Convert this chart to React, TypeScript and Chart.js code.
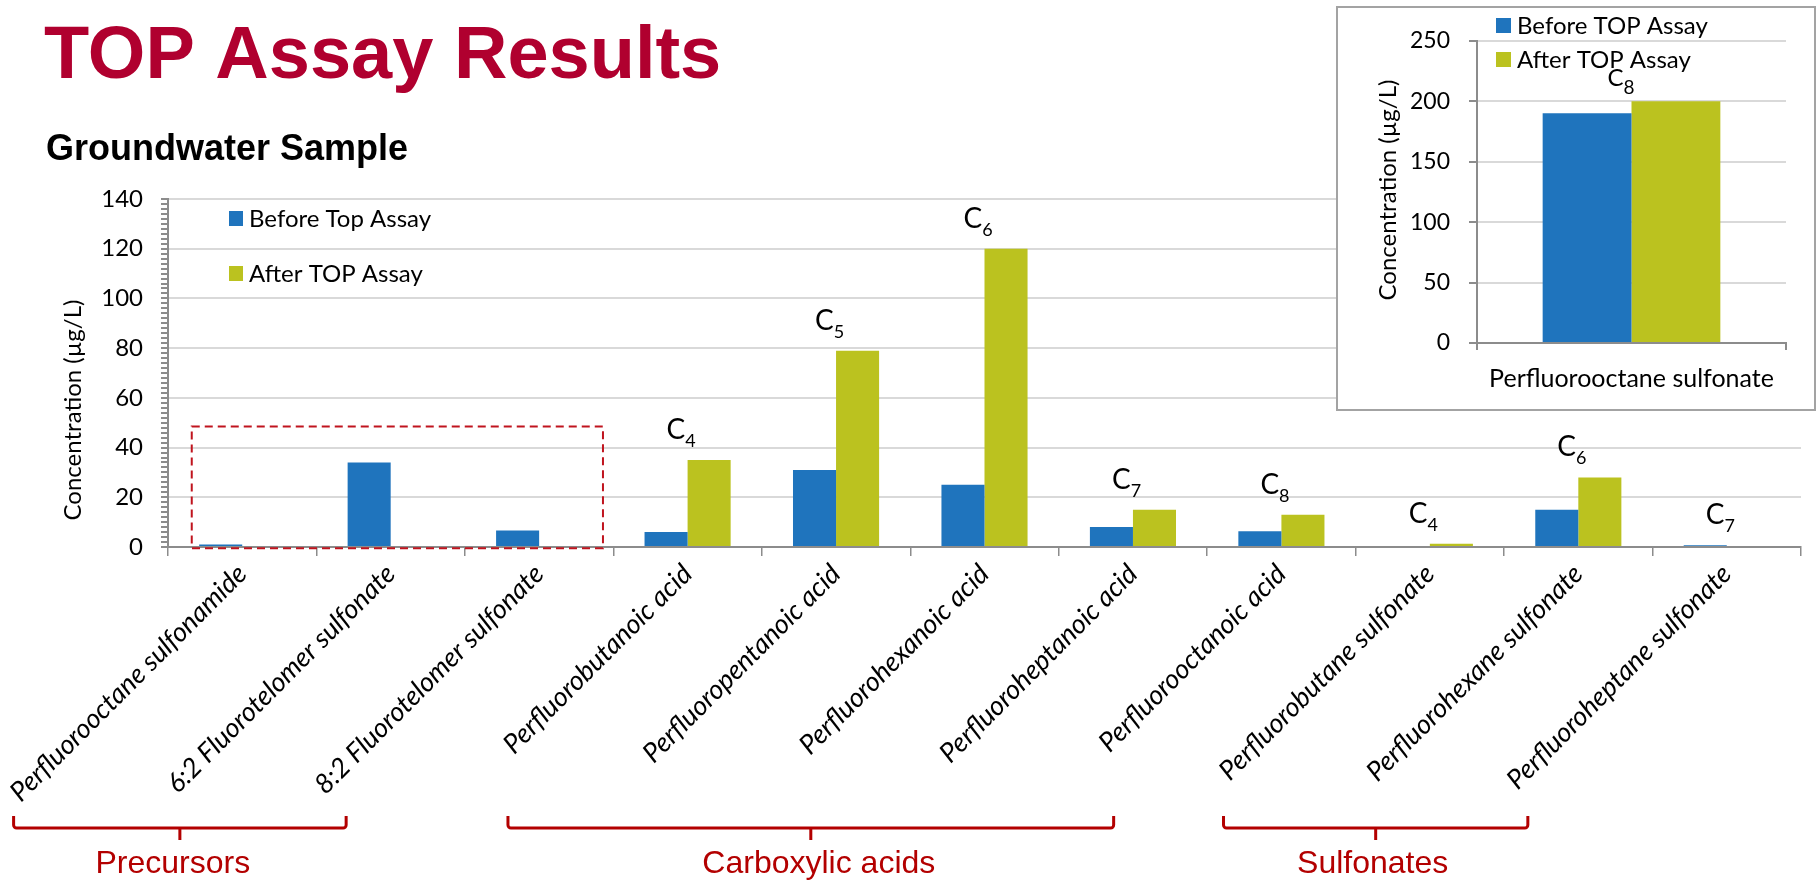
import React, { useEffect, useRef } from 'react';
import { Chart, registerables } from 'chart.js';

Chart.register(...registerables);

// ---- Groundwater sample: concentrations (µg/L) before and after the TOP assay ----
const CATEGORIES = [
  'Perfluorooctane sulfonamide',
  '6:2 Fluorotelomer sulfonate',
  '8:2 Fluorotelomer sulfonate',
  'Perfluorobutanoic acid',
  'Perfluoropentanoic acid',
  'Perfluorohexanoic acid',
  'Perfluoroheptanoic acid',
  'Perfluorooctanoic acid',
  'Perfluorobutane sulfonate',
  'Perfluorohexane sulfonate',
  'Perfluoroheptane sulfonate',
];
const BEFORE = [1, 34, 6.6, 6, 31, 25, 8, 6.3, 0, 15, 0.7];
const AFTER = [0, 0, 0, 35, 79, 120, 15, 13, 1.3, 28, 0.4];
// carbon chain length shown above each pair (empty = no label)
const CHAIN = ['', '', '', '4', '5', '6', '7', '8', '4', '6', '7'];
const Y_MAX = 140;
const Y_LABEL_STEP = 20;
const Y_MINOR_STEP = 2;

// ---- Inset: PFOS ----
const INSET_CATEGORIES = ['Perfluorooctane sulfonate'];
const INSET_BEFORE = [190];
const INSET_AFTER = [200];
const INSET_CHAIN = ['8'];
const INSET_Y_MAX = 250;
const INSET_Y_STEP = 50;

// ---- Compound groups under the axis ----
const GROUP_LABELS = ['Precursors', 'Carboxylic acids', 'Sulfonates'];
// bracket extents, in category-index units of the x scale
const BRACKET_SPANS: [number, number][] = [
  [-1.54, 0.7],
  [1.79, 5.87],
  [6.61, 8.66],
];
// horizontal nudge of each group name relative to its bracket centre (px)
const GROUP_LABEL_NUDGE = [-7, 8, -3];
// dashed outline around the precursors (x in category units, y in µg/L)
const PRECURSOR_BOX = { x0: -0.34, x1: 2.43, y0: -0.5, y1: 48.5 };

const LEGEND_MAIN = ['Before Top Assay', 'After TOP Assay'];
const LEGEND_INSET = ['Before TOP Assay', 'After TOP Assay'];
const Y_TITLE = 'Concentration (µg/L)';

const BLUE = '#1F74BD';
const GREEN = '#BBC21F';
const AXIS = '#8C8C8C';
const GRID = '#D9D9D9';
const DARK_RED = '#B0002F';
const BRACKET_RED = '#B30000';
const FONT = 'Lato';

function drawChainLabel(
  ctx: CanvasRenderingContext2D,
  x: number,
  baseline: number,
  sub: string,
  big: number,
  small: number,
  drop: number
) {
  ctx.save();
  ctx.fillStyle = '#000';
  ctx.textAlign = 'left';
  ctx.textBaseline = 'alphabetic';
  ctx.font = `${big}px ${FONT}`;
  ctx.fillText('C', x, baseline);
  const w = ctx.measureText('C').width;
  ctx.font = `${small}px ${FONT}`;
  ctx.fillText(sub, x + w, baseline + drop);
  ctx.restore();
}

const mainDecor = {
  id: 'mainDecor',
  afterDatasetsDraw(chart: any) {
    const { ctx, chartArea } = chart;
    const x = chart.scales.x;
    const y = chart.scales.y;
    ctx.save();

    // headings
    ctx.fillStyle = DARK_RED;
    ctx.textAlign = 'left';
    ctx.textBaseline = 'alphabetic';
    ctx.font = 'bold 74px "Liberation Sans"';
    ctx.fillText('TOP Assay Results', 44, 78);
    ctx.fillStyle = '#000';
    ctx.font = 'bold 36px "Liberation Sans"';
    ctx.fillText('Groundwater Sample', 46, 160);

    // y-axis title
    ctx.save();
    ctx.translate(73, 410);
    ctx.rotate(-Math.PI / 2);
    ctx.textAlign = 'center';
    ctx.textBaseline = 'middle';
    ctx.font = `24px ${FONT}`;
    ctx.fillStyle = '#000';
    ctx.fillText(Y_TITLE, 0, 0);
    ctx.restore();

    // legend inside the plot area
    const lx = chartArea.left + 61;
    const colors = [BLUE, GREEN];
    LEGEND_MAIN.forEach((t, i) => {
      const top = chartArea.top + 12 + i * 55;
      ctx.fillStyle = colors[i];
      ctx.fillRect(lx, top, 14, 15);
      ctx.fillStyle = '#000';
      ctx.font = `24px ${FONT}`;
      ctx.textBaseline = 'middle';
      ctx.fillText(t, lx + 20, top + 8);
    });

    // chain-length labels
    CHAIN.forEach((c, i) => {
      if (!c) return;
      const cx = x.getPixelForValue(i) - 21;
      const base = y.getPixelForValue(Math.max(AFTER[i], BEFORE[i])) - 21;
      drawChainLabel(ctx, cx, base, c, 28, 18, 8);
    });

    // dashed outline around the precursors
    ctx.save();
    ctx.strokeStyle = '#C0141E';
    ctx.lineWidth = 2;
    ctx.setLineDash([8, 5]);
    const bx0 = x.getPixelForValue(PRECURSOR_BOX.x0);
    const bx1 = x.getPixelForValue(PRECURSOR_BOX.x1);
    const by0 = y.getPixelForValue(PRECURSOR_BOX.y1);
    const by1 = y.getPixelForValue(PRECURSOR_BOX.y0);
    ctx.strokeRect(bx0, by0, bx1 - bx0, by1 - by0);
    ctx.restore();

    // group brackets and names
    ctx.strokeStyle = BRACKET_RED;
    ctx.lineWidth = 3;
    ctx.lineJoin = 'round';
    ctx.lineCap = 'butt';
    BRACKET_SPANS.forEach(([a, b], i) => {
      const l = x.getPixelForValue(a);
      const r = x.getPixelForValue(b);
      const mid = (l + r) / 2;
      ctx.beginPath();
      ctx.moveTo(l, 816);
      ctx.arcTo(l, 828, l + 6, 828, 3);
      ctx.arcTo(r, 828, r, 816, 3);
      ctx.lineTo(r, 816);
      ctx.moveTo(mid, 828);
      ctx.lineTo(mid, 840);
      ctx.stroke();
      ctx.fillStyle = BRACKET_RED;
      ctx.font = '32px "Liberation Sans"';
      ctx.textAlign = 'center';
      ctx.textBaseline = 'alphabetic';
      ctx.fillText(GROUP_LABELS[i], mid + GROUP_LABEL_NUDGE[i], 873);
    });

    ctx.restore();
  },
};

const insetDecor = {
  id: 'insetDecor',
  afterDatasetsDraw(chart: any) {
    const { ctx, chartArea } = chart;
    const x = chart.scales.x;
    const y = chart.scales.y;
    ctx.save();
    const colors = [BLUE, GREEN];
    const lx = chartArea.left + 19;
    LEGEND_INSET.forEach((t, i) => {
      const top = 10 + i * 34;
      ctx.fillStyle = colors[i];
      ctx.fillRect(lx, top, 15, 15);
      ctx.fillStyle = '#000';
      ctx.font = `24px ${FONT}`;
      ctx.textAlign = 'left';
      ctx.textBaseline = 'middle';
      ctx.fillText(t, lx + 21, top + 8);
    });
    ctx.save();
    ctx.translate(50, 182);
    ctx.rotate(-Math.PI / 2);
    ctx.textAlign = 'center';
    ctx.textBaseline = 'middle';
    ctx.font = `24px ${FONT}`;
    ctx.fillStyle = '#000';
    ctx.fillText(Y_TITLE, 0, 0);
    ctx.restore();
    INSET_CHAIN.forEach((c, i) => {
      const cx = x.getPixelForValue(i) - 24;
      const base = y.getPixelForValue(Math.max(INSET_AFTER[i], INSET_BEFORE[i])) - 15;
      drawChainLabel(ctx, cx, base, c, 24, 19, 7.5);
    });
    ctx.restore();
  },
};

export default function App() {
  const mainRef = useRef<HTMLCanvasElement | null>(null);
  const insetRef = useRef<HTMLCanvasElement | null>(null);

  useEffect(() => {
    const main = new Chart(mainRef.current as HTMLCanvasElement, {
      type: 'bar',
      data: {
        labels: CATEGORIES,
        datasets: [
          {
            label: LEGEND_MAIN[0],
            data: BEFORE,
            backgroundColor: BLUE,
            borderWidth: 0,
            categoryPercentage: 0.58,
            barPercentage: 1,
          },
          {
            label: LEGEND_MAIN[1],
            data: AFTER,
            backgroundColor: GREEN,
            borderWidth: 0,
            categoryPercentage: 0.58,
            barPercentage: 1,
          },
        ],
      },
      options: {
        responsive: false,
        animation: false,
        devicePixelRatio: 1,
        layout: { padding: { left: 0, top: 199, right: 17, bottom: 0 } },
        plugins: { legend: { display: false }, tooltip: { enabled: false } },
        scales: {
          x: {
            grid: {
              drawOnChartArea: false,
              tickLength: 9,
              color: AXIS,
              lineWidth: 1.5,
              offset: true,
            },
            border: { color: AXIS, width: 2 },
            ticks: {
              minRotation: 45,
              maxRotation: 45,
              autoSkip: false,
              color: '#000',
              padding: 2,
              font: { family: FONT, style: 'italic', size: 27 },
            },
            afterFit: (s: any) => {
              s.height = 333;
            },
          },
          y: {
            min: 0,
            max: Y_MAX,
            ticks: {
              stepSize: Y_MINOR_STEP,
              autoSkip: false,
              color: '#000',
              padding: 18,
              font: { family: FONT, size: 24 },
              callback: (v: any) => (Number(v) % Y_LABEL_STEP === 0 ? String(v) : ''),
            },
            grid: {
              color: (c: any) =>
                c.tick && c.tick.value % Y_LABEL_STEP === 0 ? GRID : 'rgba(0,0,0,0)',
              tickColor: AXIS,
              tickLength: 7,
              lineWidth: 2,
            },
            border: { color: AXIS, width: 2 },
            afterFit: (s: any) => {
              s.width = 168;
            },
          },
        },
      } as any,
      plugins: [mainDecor],
    });

    const inset = new Chart(insetRef.current as HTMLCanvasElement, {
      type: 'bar',
      data: {
        labels: INSET_CATEGORIES,
        datasets: [
          {
            label: LEGEND_INSET[0],
            data: INSET_BEFORE,
            backgroundColor: BLUE,
            borderWidth: 0,
            categoryPercentage: 0.575,
            barPercentage: 1,
          },
          {
            label: LEGEND_INSET[1],
            data: INSET_AFTER,
            backgroundColor: GREEN,
            borderWidth: 0,
            categoryPercentage: 0.575,
            barPercentage: 1,
          },
        ],
      },
      options: {
        responsive: false,
        animation: false,
        devicePixelRatio: 1,
        layout: { padding: { left: 0, top: 28, right: 28, bottom: 0 } },
        plugins: { legend: { display: false }, tooltip: { enabled: false } },
        scales: {
          x: {
            grid: { drawOnChartArea: false, tickLength: 7, color: AXIS, lineWidth: 2, offset: true },
            border: { color: AXIS, width: 2 },
            ticks: {
              maxRotation: 0,
              color: '#000',
              padding: 14,
              font: { family: FONT, size: 25 },
            },
            afterFit: (s: any) => {
              s.height = 66;
            },
          },
          y: {
            min: 0,
            max: INSET_Y_MAX,
            ticks: {
              stepSize: INSET_Y_STEP,
              color: '#000',
              padding: 19,
              font: { family: FONT, size: 23 },
            },
            grid: { color: GRID, tickColor: AXIS, tickLength: 8, lineWidth: 2 },
            border: { color: AXIS, width: 2 },
            afterFit: (s: any) => {
              s.width = 139;
            },
          },
        },
      } as any,
      plugins: [insetDecor],
    });

    return () => {
      main.destroy();
      inset.destroy();
    };
  }, []);

  return (
    <div
      style={{
        position: 'fixed',
        left: 0,
        top: 0,
        width: 1818,
        height: 880,
        background: '#fff',
        overflow: 'hidden',
      }}
    >
      <canvas
        ref={mainRef}
        width={1818}
        height={880}
        style={{ position: 'absolute', left: 0, top: 0, display: 'block' }}
      />
      <div
        style={{
          position: 'absolute',
          left: 1336,
          top: 6,
          width: 480,
          height: 405,
          boxSizing: 'border-box',
          border: '2px solid #A3A3A3',
          background: '#fff',
        }}
      >
        <canvas
          ref={insetRef}
          width={476}
          height={401}
          style={{ display: 'block' }}
        />
      </div>
    </div>
  );
}
